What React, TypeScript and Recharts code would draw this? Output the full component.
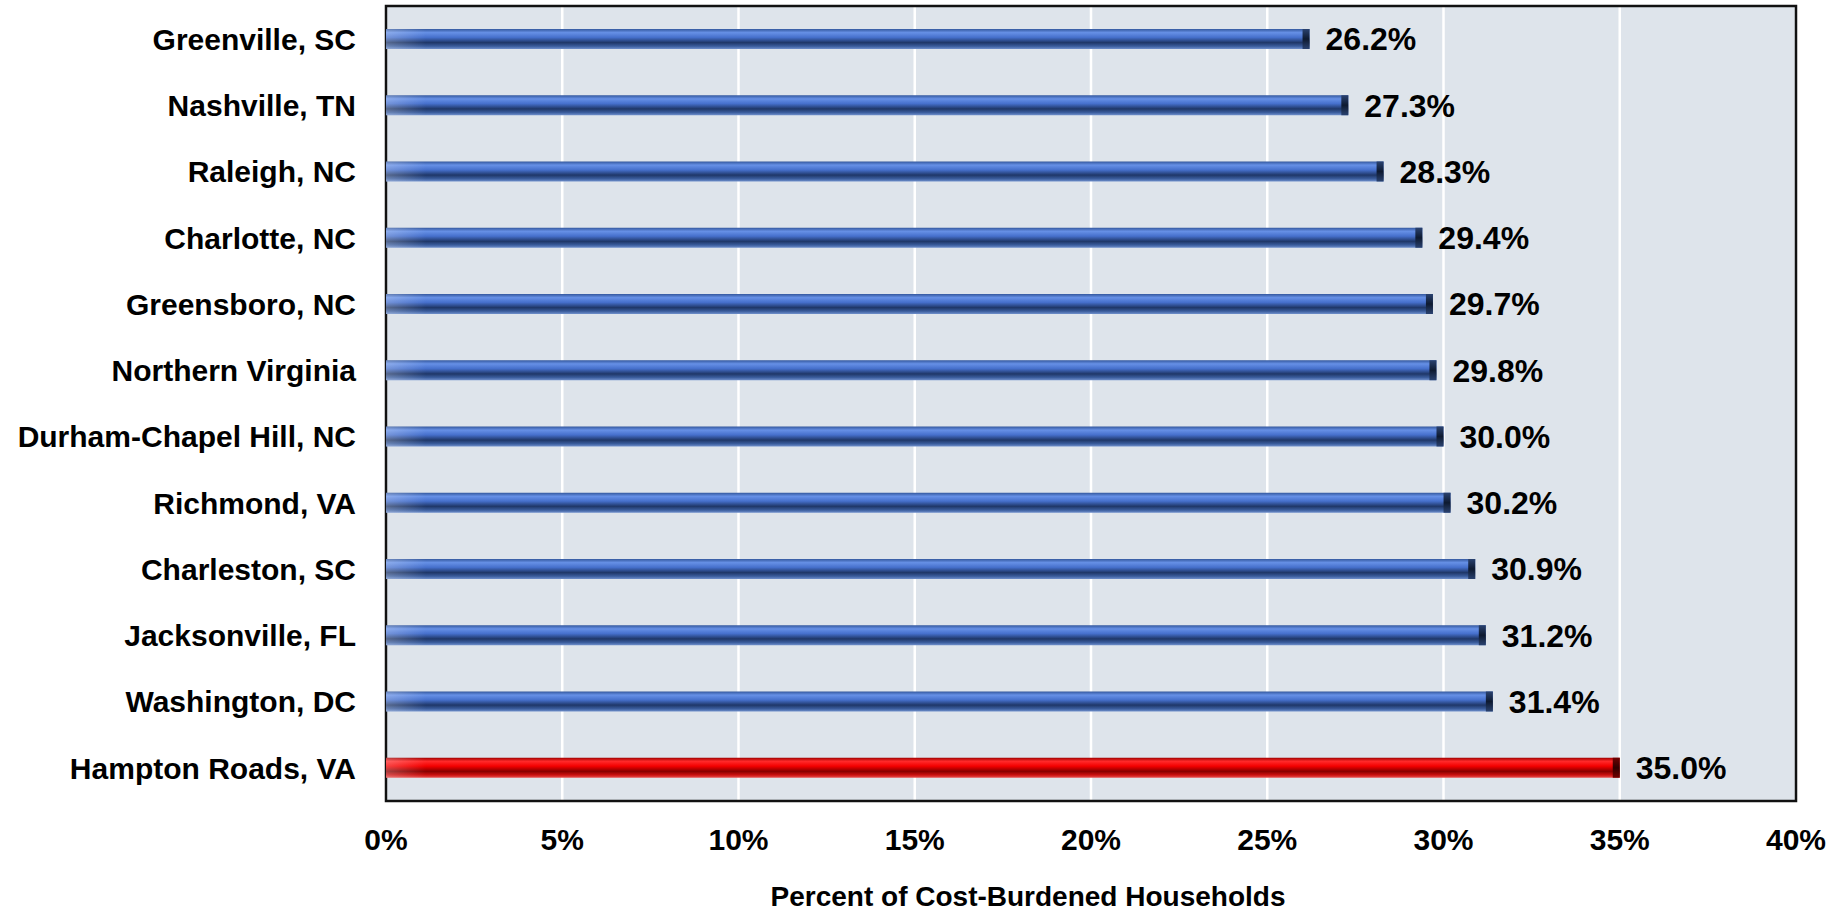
import React from "react";
import {
  BarChart,
  Bar,
  XAxis,
  YAxis,
  CartesianGrid,
  LabelList,
  Label,
  ReferenceArea,
} from "recharts";

const cities = [
  "Greenville, SC",
  "Nashville, TN",
  "Raleigh, NC",
  "Charlotte, NC",
  "Greensboro, NC",
  "Northern Virginia",
  "Durham-Chapel Hill, NC",
  "Richmond, VA",
  "Charleston, SC",
  "Jacksonville, FL",
  "Washington, DC",
  "Hampton Roads, VA",
];
const burdened = [26.2, 27.3, 28.3, 29.4, 29.7, 29.8, 30.0, 30.2, 30.9, 31.2, 31.4, 35.0];
const highlight = "Hampton Roads, VA";
const xTicks = [0, 5, 10, 15, 20, 25, 30, 35, 40];

const data = cities.map((name, i) => ({ name, value: burdened[i] }));

const FONT = "'Liberation Sans', Arial, sans-serif";

// cylinder-looking bar with a darker cap at the end
const TubeBar = (props: any) => {
  const { x, y, width, height, payload } = props;
  if (!width || width <= 0) return null;
  const red = payload.name === highlight;
  const cap = Math.min(7, width);
  return (
    <g>
      <rect x={x} y={y} width={width} height={height} fill={red ? "url(#tubeRed)" : "url(#tubeBlue)"} />
      <rect x={x} y={y} width={40} height={height} fill="url(#tubeFade)" />
      <rect x={x + width - cap} y={y} width={cap} height={height} fill={red ? "url(#capRed)" : "url(#capBlue)"} />
    </g>
  );
};

export default function App() {
  return (
    <div style={{ width: 1848, height: 912, background: "#fff" }}>
      <style>{`body{margin:0;}`}</style>
      <BarChart
        width={1848}
        height={912}
        data={data}
        layout="vertical"
        margin={{ top: 6, right: 52, bottom: 0, left: 0 }}
        barSize={20}
      >
        <defs>
          <linearGradient id="tubeBlue" x1="0" y1="0" x2="0" y2="1">
            <stop offset="0%" stopColor="#34589e" />
            <stop offset="18%" stopColor="#6690e6" />
            <stop offset="42%" stopColor="#4670cc" />
            <stop offset="68%" stopColor="#1f3768" />
            <stop offset="86%" stopColor="#3a5c9c" />
            <stop offset="100%" stopColor="#7090cc" />
          </linearGradient>
          <linearGradient id="tubeRed" x1="0" y1="0" x2="0" y2="1">
            <stop offset="0%" stopColor="#a00000" />
            <stop offset="18%" stopColor="#ff2a2a" />
            <stop offset="42%" stopColor="#f40000" />
            <stop offset="68%" stopColor="#880000" />
            <stop offset="86%" stopColor="#cc1010" />
            <stop offset="100%" stopColor="#e85050" />
          </linearGradient>
          <linearGradient id="tubeFade" x1="0" y1="0" x2="1" y2="0">
            <stop offset="0%" stopColor="#ffffff" stopOpacity={0.25} />
            <stop offset="100%" stopColor="#ffffff" stopOpacity={0} />
          </linearGradient>
          <linearGradient id="capBlue" x1="0" y1="0" x2="0" y2="1">
            <stop offset="0%" stopColor="#2a4270" />
            <stop offset="50%" stopColor="#0e1a30" />
            <stop offset="100%" stopColor="#2a4270" />
          </linearGradient>
          <linearGradient id="capRed" x1="0" y1="0" x2="0" y2="1">
            <stop offset="0%" stopColor="#700000" />
            <stop offset="50%" stopColor="#300000" />
            <stop offset="100%" stopColor="#700000" />
          </linearGradient>
        </defs>
        <CartesianGrid horizontal={false} stroke="#ffffff" strokeWidth={2.5} fill="#dee4eb" />
        <XAxis
          type="number"
          domain={[0, 40]}
          ticks={xTicks}
          tickFormatter={(v) => `${v}%`}
          axisLine={false}
          tickLine={false}
          tickSize={0}
          tickMargin={28}
          height={111}
          tick={{ fill: "#000", fontSize: 30, fontWeight: 700, fontFamily: FONT }}
          interval={0}
        >
          <Label
            content={(p: any) => {
              const vb = p.viewBox;
              return (
                <text
                  x={vb.x + vb.width / 2 - 63}
                  y={vb.y + 105}
                  textAnchor="middle"
                  fontSize={28}
                  fontWeight={700}
                  fontFamily={FONT}
                  fill="#000"
                >
                  Percent of Cost-Burdened Households
                </text>
              );
            }}
          />
        </XAxis>
        <YAxis
          type="category"
          dataKey="name"
          width={386}
          axisLine={false}
          tickLine={false}
          tickSize={0}
          tickMargin={30}
          interval={0}
          tick={{ fill: "#000", fontSize: 30, fontWeight: 700, fontFamily: FONT }}
        />
        <Bar dataKey="value" shape={<TubeBar />} isAnimationActive={false}>
          <LabelList
            dataKey="value"
            position="right"
            offset={16}
            formatter={(v: any) => `${Number(v).toFixed(1)}%`}
            style={{ fill: "#000", fontSize: 32, fontWeight: 700, fontFamily: FONT }}
          />
        </Bar>
        <ReferenceArea
          x1={0}
          x2={40}
          fill="none"
          stroke="#111"
          strokeWidth={2.5}
          ifOverflow="visible"
        />
      </BarChart>
    </div>
  );
}
